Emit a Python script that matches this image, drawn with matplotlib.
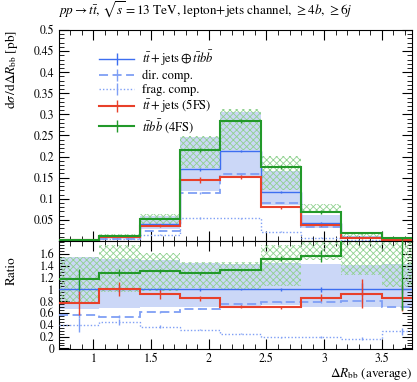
import numpy as np
import matplotlib
matplotlib.use("Agg")
import matplotlib.pyplot as plt
from matplotlib.lines import Line2D
from matplotlib.ticker import MultipleLocator, FixedLocator

plt.rcParams['font.family'] = ['STIXGeneral', 'DejaVu Serif']
plt.rcParams['mathtext.fontset'] = 'stix'
plt.rcParams['hatch.linewidth'] = 0.6

# ---- data ----
edges = [0.7, 1.05, 1.4, 1.75, 2.1, 2.45, 2.8, 3.15, 3.5, 3.85]
merged = [0.0025, 0.0100, 0.0395, 0.170, 0.2135, 0.1155, 0.0436, 0.0085, 0.0026]
merged_err_rel = [0.15, 0.05, 0.03, 0.02, 0.015, 0.02, 0.04, 0.11, 0.06]
merged_band_up = [1.55, 1.52, 1.50, 1.45, 1.43, 1.44, 1.43, 1.41, 1.43]
merged_band_lo = [0.66, 0.68, 0.70, 0.70, 0.70, 0.73, 0.70, 0.70, 0.70]

direct_ratio = [0.57, 0.54, 0.615, 0.67, 0.745, 0.785, 0.785, 0.81, 0.70]
direct_err = [0.05, 0.03, 0.02, 0.01, 0.01, 0.01, 0.02, 0.04, 0.05]
frag_ratio = [0.40, 0.45, 0.37, 0.32, 0.25, 0.19, 0.19, 0.165, 0.29]
frag_err = [0.12, 0.05, 0.03, 0.01, 0.01, 0.01, 0.02, 0.03, 0.06]

tt5fs_ratio = [0.77, 1.01, 0.915, 0.85, 0.71, 0.695, 0.86, 0.93, 0.85]
tt5fs_err = [0.20, 0.12, 0.08, 0.04, 0.02, 0.03, 0.06, 0.25, 0.22]

ttbb_ratio = [1.17, 1.28, 1.31, 1.27, 1.33, 1.52, 1.565, 2.18, 2.30]
ttbb_err = [0.18, 0.06, 0.04, 0.03, 0.02, 0.04, 0.10, 0.15, 1.65]
ttbb_band_up = [1.55, 1.75, 1.62, 1.46, 1.46, 1.75, 2.00, 2.50, 3.00]
ttbb_band_lo = [0.78, 0.95, 0.98, 1.02, 1.01, 1.05, 1.50, 1.25, 1.04]

title = r'$pp \rightarrow t\bar{t}$, $\sqrt{s}=13$ TeV, lepton+jets channel, $\geq 4b$, $\geq 6j$'
labels = [r'$t\bar{t}+\mathrm{jets}\oplus t\bar{t}b\bar{b}$', 'dir. comp.', 'frag. comp.',
          r'$t\bar{t}+$jets (5FS)', r'$t\bar{t}b\bar{b}$ (4FS)']

# ---- styling ----
c_blue = '#3d6ef0'
c_blue_l = '#7f9ff5'
c_red = '#e8402a'
c_green = '#22992a'
c_band = '#cbd7f7'
c_hatch = '#90d290'

edges_a = np.array(edges)
centers = 0.5 * (edges_a[:-1] + edges_a[1:])
m = np.array(merged)

fig = plt.figure(figsize=(4.17, 3.82), dpi=100)
W, H = 417, 382
x0, x1 = 58.9, 412
ax = fig.add_axes([x0 / W, 1 - 241 / H, (x1 - x0) / W, (241 - 30) / H])
axr = fig.add_axes([x0 / W, 1 - 349 / H, (x1 - x0) / W, (349 - 241) / H], sharex=ax)

def draw(a, scale):
    s = np.asarray(scale)
    a.stairs(np.array(merged_band_up) * s, edges_a, baseline=np.array(merged_band_lo) * s,
             fill=True, color=c_band, lw=0, zorder=1)
    a.stairs(np.array(ttbb_band_up) * s, edges_a, baseline=np.array(ttbb_band_lo) * s,
             fill=True, facecolor='none', edgecolor=c_hatch, hatch='xxxxx', lw=0, zorder=2)
    series = [
        (np.ones(9), merged_err_rel, c_blue, '-', 1.0),
        (np.array(direct_ratio), direct_err, c_blue_l, (0, (5, 2.5)), 1.3),
        (np.array(frag_ratio), frag_err, c_blue_l, (0, (1, 1.5)), 1.0),
        (np.array(tt5fs_ratio), tt5fs_err, c_red, '-', 1.5),
        (np.array(ttbb_ratio), ttbb_err, c_green, '-', 1.5),
    ]
    for k, (r, e, c, ls, lw) in enumerate(series):
        v = r * s
        a.stairs(v, edges_a, color=c, ls=ls, lw=lw, zorder=3 + k, baseline=None)
        a.errorbar(centers, v, yerr=np.array(e) * s, fmt='none', ecolor=c, elinewidth=1.0,
                   capsize=0, zorder=3 + k)

draw(ax, m)
draw(axr, np.ones(9))

for a in (ax, axr):
    a.tick_params(which='both', direction='in', top=True, right=True, labelsize=8.5, colors='black')
    a.tick_params(which='major', length=7, width=0.8)
    a.tick_params(which='minor', length=3.5, width=0.6)
    a.xaxis.set_major_locator(MultipleLocator(0.5))
    a.xaxis.set_minor_locator(MultipleLocator(0.1))
    for sp in a.spines.values():
        sp.set_linewidth(0.8)

ax.set_xlim(0.7, 3.762)
ax.set_ylim(0, 0.5)
ax.yaxis.set_major_locator(FixedLocator([0.05, 0.1, 0.15, 0.2, 0.25, 0.3, 0.35, 0.4, 0.45, 0.5]))
ax.yaxis.set_minor_locator(MultipleLocator(0.01))
ax.set_yticklabels(['0.05', '0.1', '0.15', '0.2', '0.25', '0.3', '0.35', '0.4', '0.45', '0.5'])
plt.setp(ax.get_xticklabels(), visible=False)

axr.set_ylim(-0.01, 1.82)
axr.yaxis.set_major_locator(FixedLocator([0, 0.2, 0.4, 0.6, 0.8, 1.0, 1.2, 1.4, 1.6]))
axr.set_yticklabels(['0', '0.2', '0.4', '0.6', '0.8', '1', '1.2', '1.4', '1.6'])
axr.yaxis.set_minor_locator(MultipleLocator(0.05))
axr.set_xticks([1, 1.5, 2, 2.5, 3, 3.5])
axr.set_xticklabels(['1', '1.5', '2', '2.5', '3', '3.5'])
axr.tick_params(axis='x', pad=3)

fig.text(58 / W, 1 - 15 / H, title, fontsize=9.5, ha='left', va='baseline')
fig.text(12 / W, 1 - 30 / H, r'$\mathrm{d}\sigma\,/\mathrm{d}\Delta R_{\mathrm{bb}}$ [pb]',
         rotation=90, ha='center', va='top', fontsize=9.5)
fig.text(12 / W, 1 - 256 / H, 'Ratio', rotation=90, ha='center', va='top', fontsize=9.5)
fig.text(412 / W, 1 - 377 / H, r'$\Delta R_{\mathrm{bb}}$ (average)', ha='right', va='baseline', fontsize=9.5)

handles = [
    Line2D([], [], color=c_blue, ls='-', lw=1.0, marker='|', ms=9, mew=1.0),
    Line2D([], [], color=c_blue_l, ls=(0, (5, 2.5)), lw=1.3, marker='|', ms=9, mew=1.0),
    Line2D([], [], color=c_blue_l, ls=(0, (1, 1.5)), lw=1.0, marker='|', ms=9, mew=1.0),
    Line2D([], [], color=c_red, ls='-', lw=1.5, marker='|', ms=9, mew=1.0),
    Line2D([], [], color=c_green, ls='-', lw=1.5, marker='|', ms=9, mew=1.0),
]
leg = ax.legend(handles, labels, loc='upper left', bbox_to_anchor=(0.1, 0.935), frameon=False,
                fontsize=9, handlelength=2.8, labelspacing=0.15, handletextpad=0.6,
                borderaxespad=0)

fig.savefig('out.png', dpi=100)
